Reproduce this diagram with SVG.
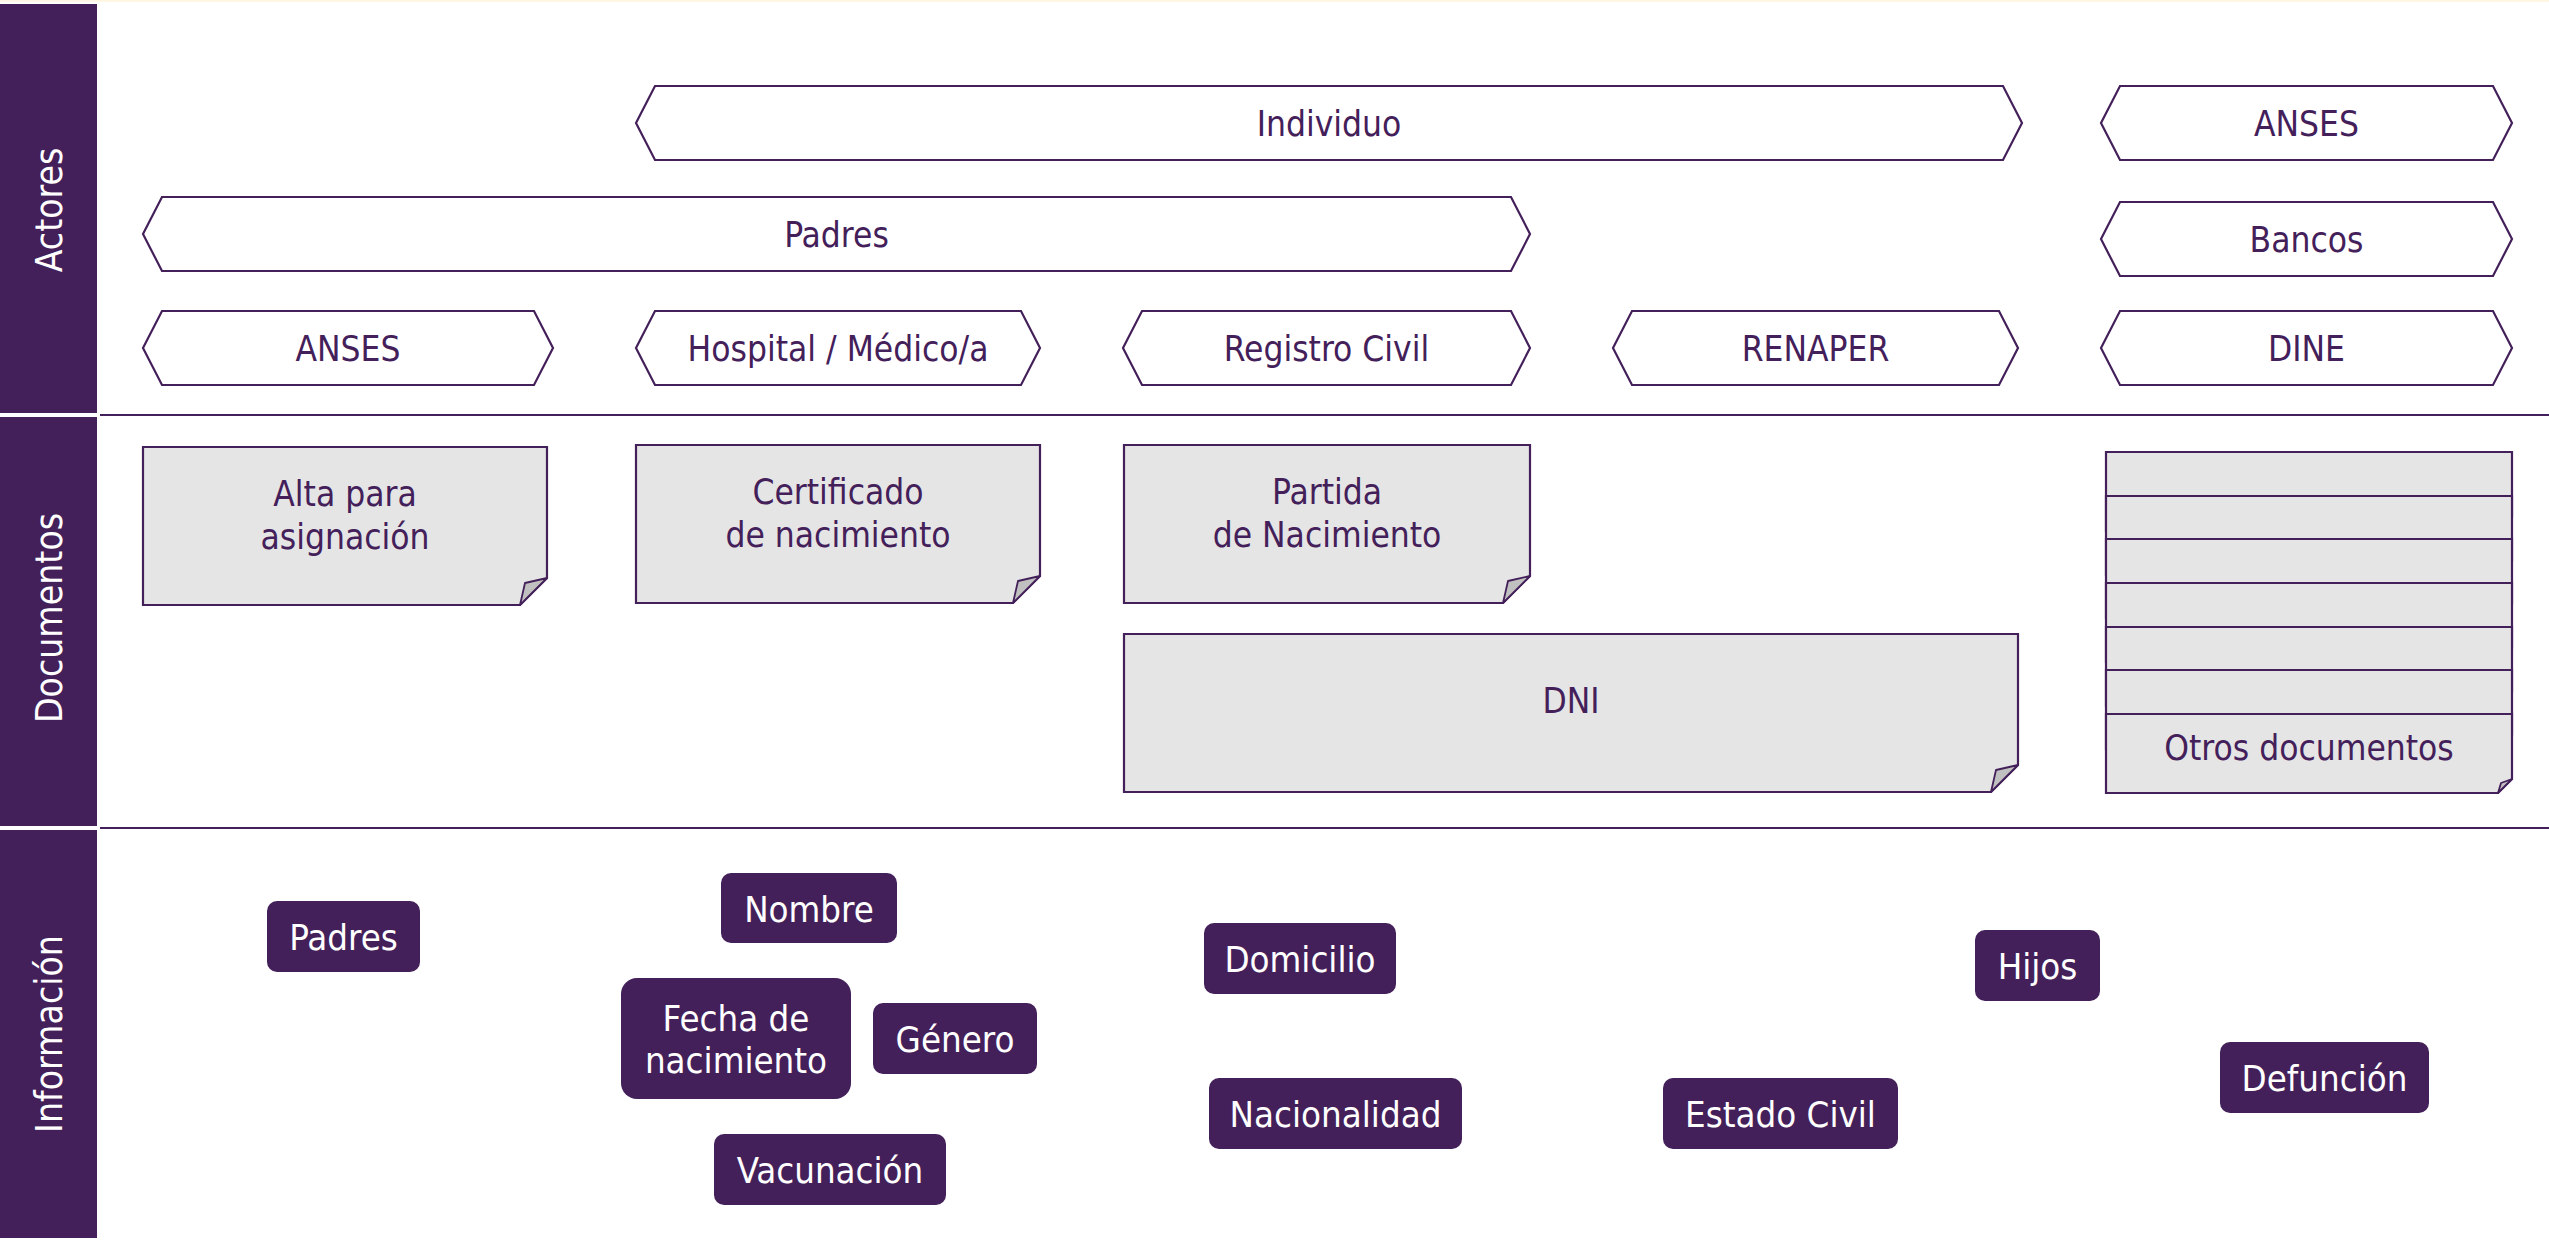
<svg xmlns="http://www.w3.org/2000/svg" width="2549" height="1241" viewBox="0 0 2549 1241">
<style>
  .band{fill:#44205a}
  .bandtxt{fill:#ffffff;font-family:'DejaVu Sans Condensed','DejaVu Sans',sans-serif;font-stretch:condensed;font-size:37px;text-anchor:middle}
  .sep{stroke:#44205a;stroke-width:2;fill:none}
  .hex{fill:#ffffff;stroke:#44205a;stroke-width:2.2}
  .txt{fill:#44205a;font-family:'DejaVu Sans Condensed','DejaVu Sans',sans-serif;font-stretch:condensed;font-size:35px;text-anchor:middle}
  .doc{fill:#e5e5e5;stroke:#44205a;stroke-width:2.2}
  .fold{fill:#c0c0c0;stroke:#44205a;stroke-width:1.8;stroke-linejoin:round}
  .info{fill:#44205a}
  .itxt{fill:#ffffff;font-family:'DejaVu Sans Condensed','DejaVu Sans',sans-serif;font-stretch:condensed;font-size:36.3px;text-anchor:middle}
</style>
<rect x="0" y="0" width="2549" height="1241" fill="#ffffff"/>
<rect x="0" y="0" width="2549" height="2" fill="#fdf7e4"/>

<g id="lanes">
  <rect class="band" x="0" y="4" width="97" height="409"/>
  <rect class="band" x="0" y="417" width="97" height="409"/>
  <rect class="band" x="0" y="830" width="97" height="408"/>
  <text class="bandtxt" transform="translate(62,210) rotate(-90)">Actores</text>
  <text class="bandtxt" transform="translate(62,618) rotate(-90)">Documentos</text>
  <text class="bandtxt" transform="translate(62,1034) rotate(-90)">Información</text>
  <line class="sep" x1="100" y1="415" x2="2549" y2="415"/>
  <line class="sep" x1="100" y1="828" x2="2549" y2="828"/>
</g>

<g id="actor-individuo">
  <polygon class="hex" points="636,123 655,86 2003,86 2022,123 2003,160 655,160"/>
  <text class="txt" x="1329" y="136">Individuo</text>
</g>
<g id="actor-anses-top">
  <polygon class="hex" points="2101,123 2120,86 2493,86 2512,123 2493,160 2120,160"/>
  <text class="txt" x="2306.5" y="136">ANSES</text>
</g>
<g id="actor-padres">
  <polygon class="hex" points="143,234 162,197 1511,197 1530,234 1511,271 162,271"/>
  <text class="txt" x="836.5" y="247">Padres</text>
</g>
<g id="actor-bancos">
  <polygon class="hex" points="2101,239 2120,202 2493,202 2512,239 2493,276 2120,276"/>
  <text class="txt" x="2306.5" y="252">Bancos</text>
</g>
<g id="actor-anses">
  <polygon class="hex" points="143,348 162,311 534,311 553,348 534,385 162,385"/>
  <text class="txt" x="348" y="361">ANSES</text>
</g>
<g id="actor-hospital">
  <polygon class="hex" points="636,348 655,311 1021,311 1040,348 1021,385 655,385"/>
  <text class="txt" x="838" y="361">Hospital / Médico/a</text>
</g>
<g id="actor-registro">
  <polygon class="hex" points="1123,348 1142,311 1511,311 1530,348 1511,385 1142,385"/>
  <text class="txt" x="1326.5" y="361">Registro Civil</text>
</g>
<g id="actor-renaper">
  <polygon class="hex" points="1613,348 1632,311 1999,311 2018,348 1999,385 1632,385"/>
  <text class="txt" x="1815.5" y="361">RENAPER</text>
</g>
<g id="actor-dine">
  <polygon class="hex" points="2101,348 2120,311 2493,311 2512,348 2493,385 2120,385"/>
  <text class="txt" x="2306.5" y="361">DINE</text>
</g>

<g id="doc-alta">
  <path class="doc" d="M143,447 H547 V578 L520,605 H143 Z"/>
  <polygon class="fold" points="547,578 525,583 520,605"/>
  <text class="txt" x="345" y="506">Alta para</text>
  <text class="txt" x="345" y="549">asignación</text>
</g>
<g id="doc-certificado">
  <path class="doc" d="M636,445 H1040 V576 L1013,603 H636 Z"/>
  <polygon class="fold" points="1040,576 1018,581 1013,603"/>
  <text class="txt" x="838" y="504">Certificado</text>
  <text class="txt" x="838" y="547">de nacimiento</text>
</g>
<g id="doc-partida">
  <path class="doc" d="M1124,445 H1530 V576 L1503,603 H1124 Z"/>
  <polygon class="fold" points="1530,576 1508,581 1503,603"/>
  <text class="txt" x="1327" y="504">Partida</text>
  <text class="txt" x="1327" y="547">de Nacimiento</text>
</g>
<g id="doc-dni">
  <path class="doc" d="M1124,634 H2018 V765 L1991,792 H1124 Z"/>
  <polygon class="fold" points="2018,765 1996,770 1991,792"/>
  <text class="txt" x="1571" y="713">DNI</text>
</g>
<g id="doc-otros">
  <path class="doc" d="M2106,452 H2512 V517 L2498,531 H2106 Z"/>
  <path class="doc" d="M2106,496 H2512 V561 L2498,575 H2106 Z"/>
  <path class="doc" d="M2106,539 H2512 V604 L2498,618 H2106 Z"/>
  <path class="doc" d="M2106,583 H2512 V648 L2498,662 H2106 Z"/>
  <path class="doc" d="M2106,627 H2512 V692 L2498,706 H2106 Z"/>
  <path class="doc" d="M2106,670 H2512 V735 L2498,749 H2106 Z"/>
  <path class="doc" d="M2106,714 H2512 V779 L2498,793 H2106 Z"/>
  <polygon class="fold" points="2512,779 2501,783 2498,793"/>
  <text class="txt" x="2309" y="760">Otros documentos</text>
</g>

<g id="info-padres">
  <rect class="info" x="267" y="901" width="153" height="71" rx="10"/>
  <text class="itxt" x="343.5" y="950">Padres</text>
</g>
<g id="info-nombre">
  <rect class="info" x="721" y="873" width="176" height="70" rx="10"/>
  <text class="itxt" x="809" y="922">Nombre</text>
</g>
<g id="info-fecha">
  <rect class="info" x="621" y="978" width="230" height="121" rx="16"/>
  <text class="itxt" x="736" y="1031">Fecha de</text>
  <text class="itxt" x="736" y="1073">nacimiento</text>
</g>
<g id="info-genero">
  <rect class="info" x="873" y="1003" width="164" height="71" rx="10"/>
  <text class="itxt" x="955" y="1052">Género</text>
</g>
<g id="info-vacunacion">
  <rect class="info" x="714" y="1134" width="232" height="71" rx="10"/>
  <text class="itxt" x="830" y="1183">Vacunación</text>
</g>
<g id="info-domicilio">
  <rect class="info" x="1204" y="923" width="192" height="71" rx="10"/>
  <text class="itxt" x="1300" y="972">Domicilio</text>
</g>
<g id="info-nacionalidad">
  <rect class="info" x="1209" y="1078" width="253" height="71" rx="10"/>
  <text class="itxt" x="1335.5" y="1127">Nacionalidad</text>
</g>
<g id="info-estado-civil">
  <rect class="info" x="1663" y="1078" width="235" height="71" rx="10"/>
  <text class="itxt" x="1780.5" y="1127">Estado Civil</text>
</g>
<g id="info-hijos">
  <rect class="info" x="1975" y="930" width="125" height="71" rx="10"/>
  <text class="itxt" x="2037.5" y="979">Hijos</text>
</g>
<g id="info-defuncion">
  <rect class="info" x="2220" y="1042" width="209" height="71" rx="10"/>
  <text class="itxt" x="2324.5" y="1091">Defunción</text>
</g>

<g id="connectors"></g>
</svg>
